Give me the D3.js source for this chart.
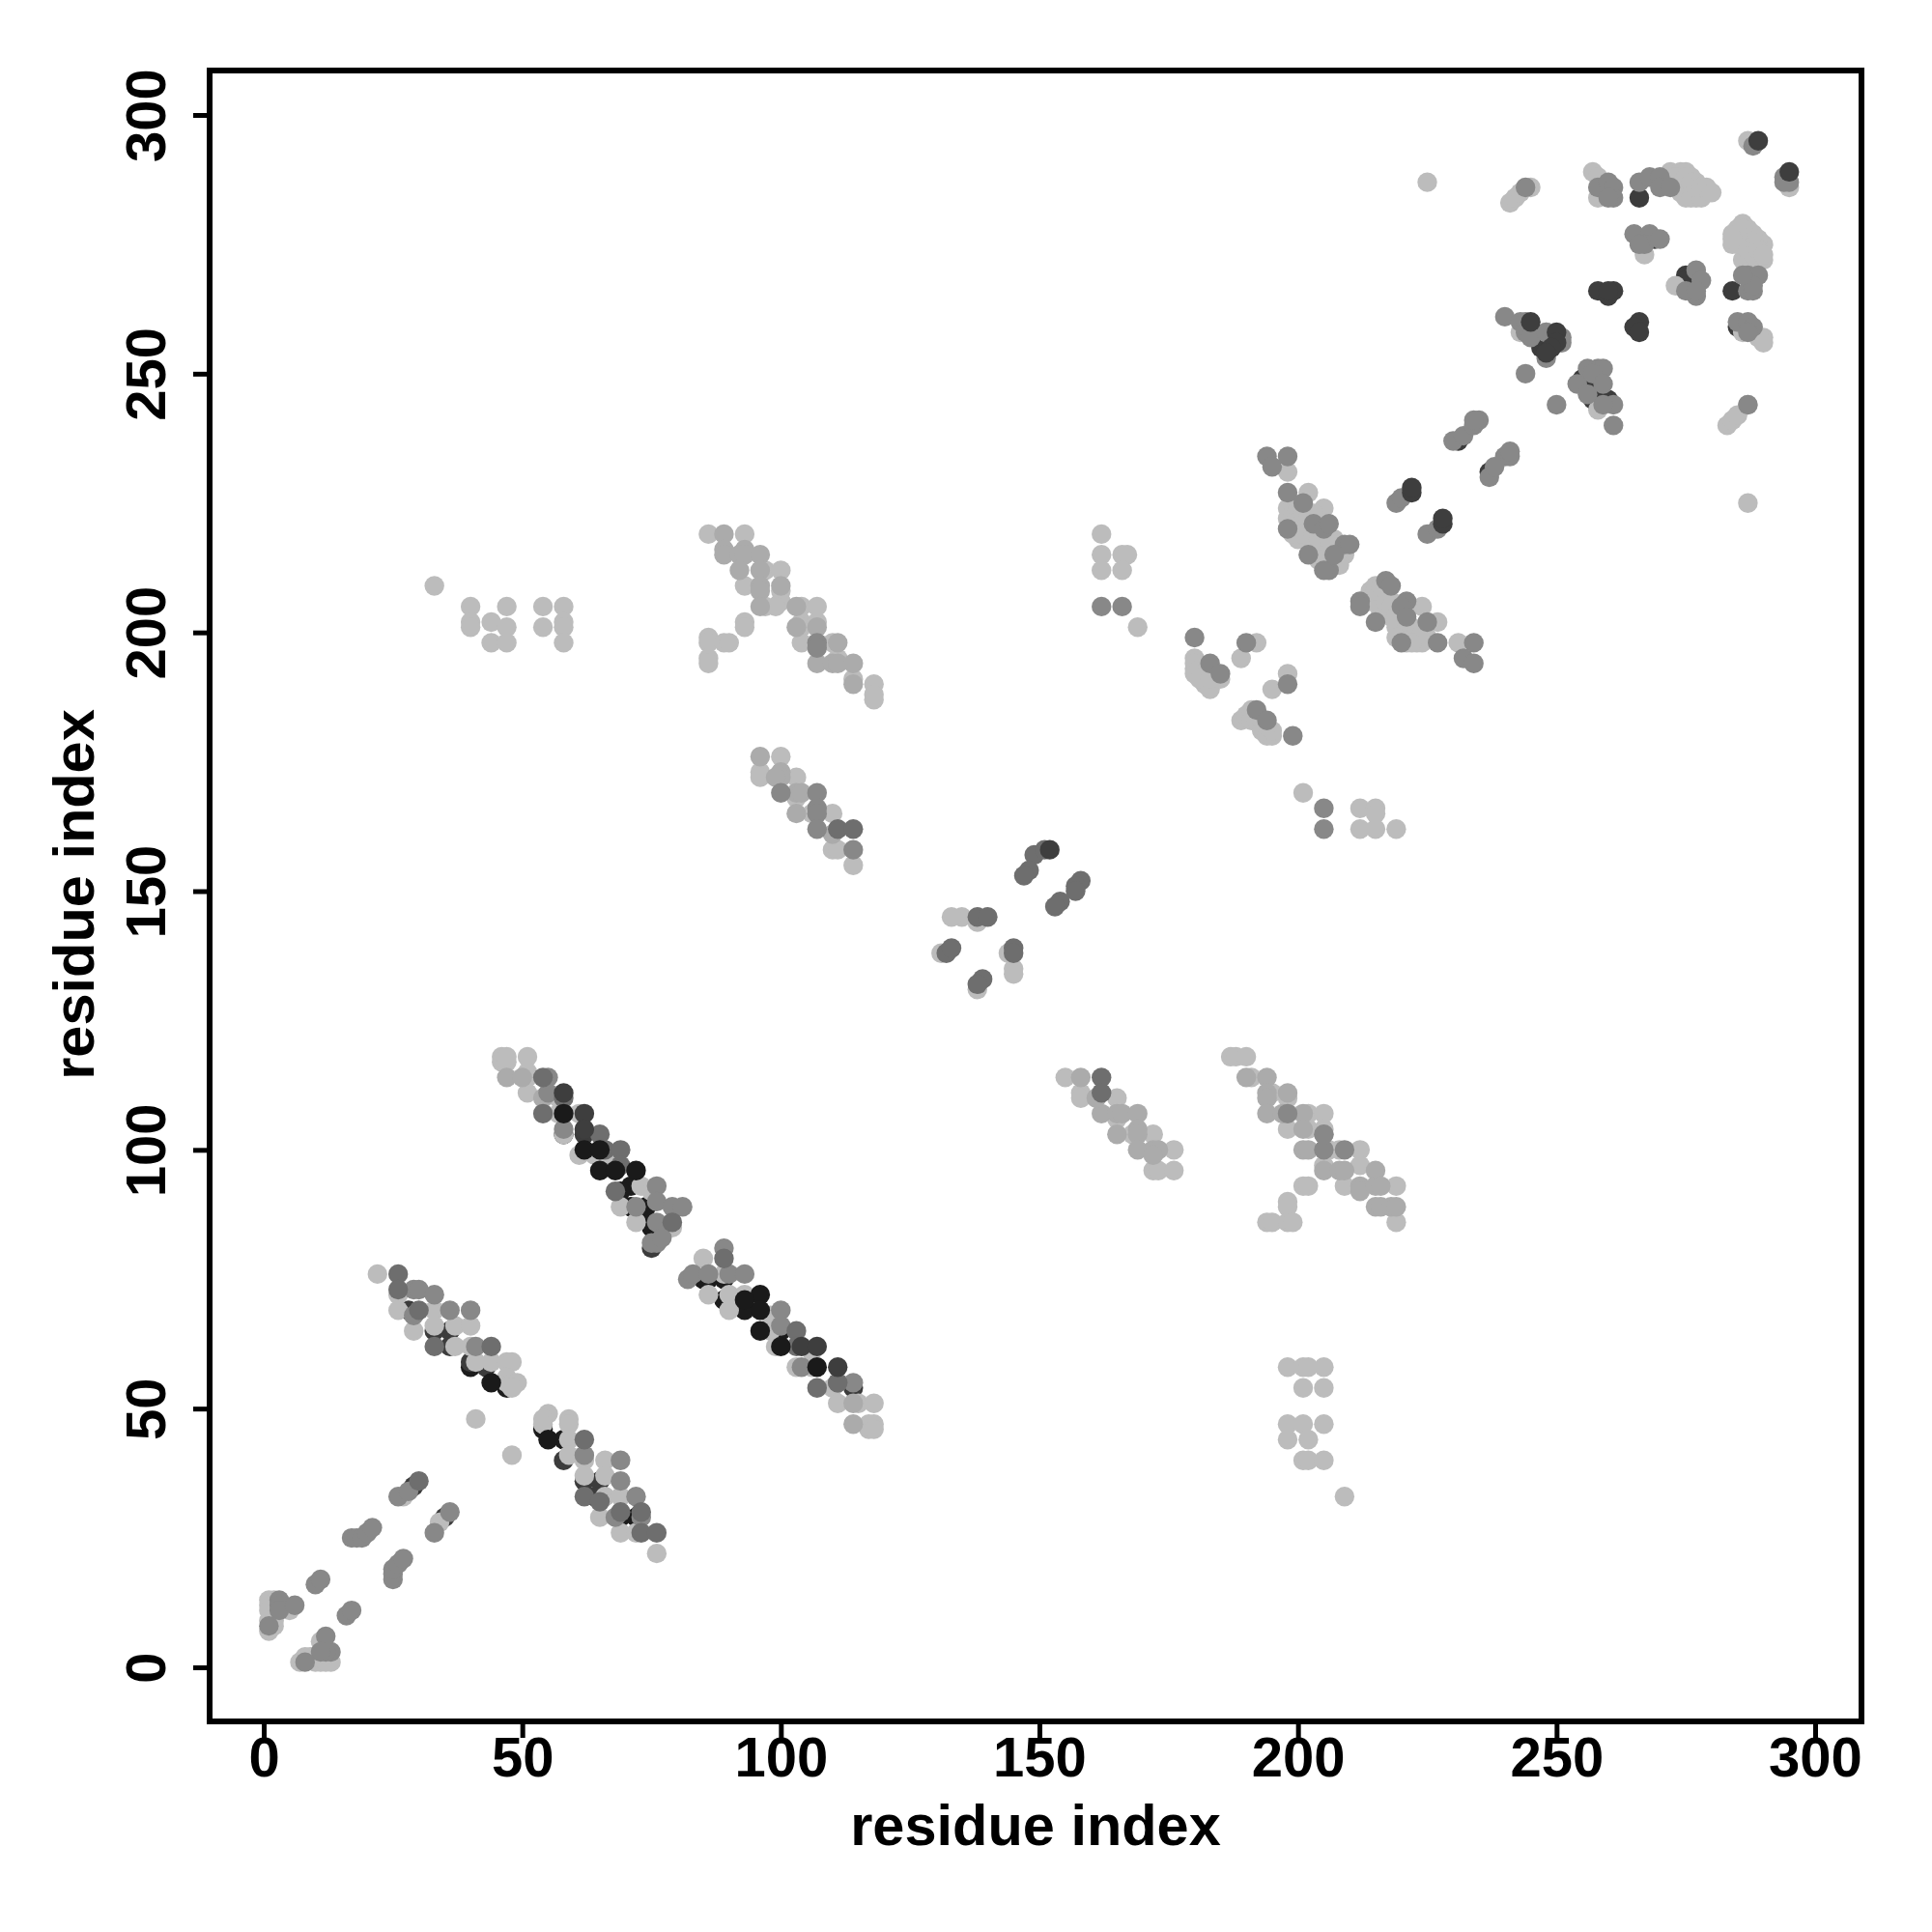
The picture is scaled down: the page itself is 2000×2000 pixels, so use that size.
<!DOCTYPE html>
<html>
<head>
<meta charset="utf-8">
<script src="https://cdn.jsdelivr.net/npm/d3@7"></script>
<style>html,body{margin:0;background:#fff}svg{display:block}text{font-family:"Liberation Sans",Arial,sans-serif;font-weight:bold;fill:#000}</style>
</head>
<body>
<svg id="c" width="2000" height="2000"></svg>
<script>
const xTickValues=[0,50,100,150,200,250,300];
const yTickValues=[0,50,100,150,200,250,300];
const axisTitle="residue index";

const blackestPts=[71,93,71,89,74,89,75,86,75,85,89,75,85,75,86,75,89,71,93,71,93,69,69,29,72,29,47,54,54,46,58,44,100,65,40,58,69,92,58,103];
const darkPts=[28,69,33,65,36,65,36,62,40,59,43,58,58,40,62,36,65,36,64,33,62,103,29,35,35,29,75,81,114,54,
208,217,231,237,237,231,244,258,247,255,255,249,257,247,260,245,257,245,269,276,275,269,275,268,285,259,266,284,284,266,260,285];
const lightPts=[22,76,26,72,26,69,29,65,33,69,33,66,37,66,40,66,37,62,40,62,41,59,44,59,47,59,48,59,47,56,47,55,48,55,49,55,48,54,41,48,48,41,
55,49,54,48,54,47,59,48,59,47,59,44,59,41,62,40,66,40,62,37,66,37,66,33,69,33,65,29,69,26,72,26,76,22,27,33,34,28,
1,13,2,13,1,12,1,11,1,9,2,9,2,8,1,7,5,11,11,5,7,1,8,2,9,2,10,1,11,1,12,1,13,1,10,2,
46,118,47,118,46,117,47,117,51,118,51,115,51,114,51,111,57,107,57,110,58,103,61,107,61,99,64,99,67,99,69,89,73,93,75,92,72,86,79,85,
85,79,86,72,89,76,90,72,90,69,93,72,98,65,98,68,99,62,103,58,106,61,106,58,110,54,111,51,115,51,118,51,117,47,118,47,117,46,118,46,
33,209,40,205,40,202,40,201,44,202,44,198,47,205,47,201,47,198,54,205,54,201,58,205,58,202,58,201,58,198,
86,219,93,219,93,209,97,212,100,212,100,208,100,206,97,205,99,205,93,202,93,201,104,205,104,202,104,201,107,205,107,202,104,198,110,198,111,195,114,191,118,190,118,188,118,187,86,199,86,198,86,195,86,194,89,198,90,198,
100,176,96,173,96,172,103,172,103,168,106,165,110,165,110,158,111,158,114,155,
155,114,158,111,158,110,165,110,165,106,168,103,172,103,176,100,172,96,173,96,176,96,
187,118,188,118,190,118,191,114,195,111,198,110,198,104,202,107,205,107,202,104,205,104,206,100,208,100,212,100,205,97,209,93,212,97,219,93,219,86,201,93,202,93,198,90,198,89,194,86,195,86,198,86,199,86,
198,58,201,58,202,58,205,58,201,54,205,54,198,47,201,47,205,47,198,44,202,44,201,40,202,40,205,40,209,33,
162,219,162,215,166,215,167,215,162,212,166,212,169,201,135,145,133,145,138,144,131,138,144,138,145,135,145,134,138,131,
180,195,180,194,180,193,181,193,180,192,182,191,182,190,183,189,185,191,184,192,181,191,183,191,192,198,189,195,198,192,195,189,189,183,190,184,191,185,191,183,192,183,193,181,194,180,195,180,195,181,194,182,193,183,
201,169,212,166,215,166,215,165,212,162,215,162,219,162,198,231,202,227,205,224,
198,224,198,222,199,223,200,222,199,221,200,220,201,221,202,220,200,218,202,218,203,217,204,216,205,215,199,219,201,219,203,219,204,218,205,217,206,216,207,218,208,215,209,215,205,213,206,213,
199,225,200,224,201,223,202,222,203,223,204,220,205,219,206,218,204,214,207,214,208,213,
214,208,215,209,214,206,216,207,216,205,216,204,218,203,218,206,219,201,221,200,223,198,221,198,224,198,225,199,222,201,224,205,227,202,231,198,215,206,217,204,
214,207,215,208,216,209,217,206,218,205,219,203,220,202,221,201,222,199,223,200,224,200,222,198,219,199,
243,258,248,258,258,243,241,283,242,284,243,285,245,286,225,287,287,225,283,240,284,241,285,242,287,244,
257,289,258,288,258,284,267,273,273,267,258,250,
272,289,274,289,275,289,272,287,274,287,276,288,277,287,279,285,275,284,277,284,278,285,275,286,273,288,276,285,
273,286,274,285,276,284,278,284,275,288,276,287,277,286,278,286,279,286,280,285,
286,279,284,277,284,275,286,277,287,276,288,275,290,275,289,272,287,272,286,272,290,272,285,278,287,277,289,276,285,275,
285,276,286,275,287,274,288,273,289,274,288,277,290,273,287,278,286,278,285,277,284,276,
286,258,289,257,290,257,290,256,295,286,287,295];
const palePts=[158,114,162,107,161,110,165,107,166,107,169,107,165,103,169,104,169,103,169,100,172,100,173,100,172,99,
190,114,194,114,194,111,194,110,198,111,194,107,197,107,201,107,201,104,201,100,202,100,205,96,208,96,209,96,212,93,212,92,215,96,215,93,216,93,215,89,216,89,218,89,219,89,205,103,
89,219,89,216,89,215,93,216,92,215,93,215,96,215,92,212,96,212,96,209,96,208,100,209,96,205,103,205,103,201,107,201,111,198,107,194,110,194,111,194,114,194,114,190,
96,176,100,173,100,172,99,172,103,169,104,169,103,165,110,161,47,114,50,114,54,110,114,51,114,47];
const midPts=[29,73,30,73,33,72,29,68,36,69,40,69,
26,33,28,34,33,26,36,30,17,25,18,25,19,25,20,26,21,27,25,17,25,18,25,19,26,20,27,21,10,16,11,17,16,10,17,11,
3,13,3,12,3,11,6,12,1,8,12,6,13,3,12,3,11,3,8,1,
41,62,62,41,69,40,69,36,72,33,68,29,73,29,
55,114,55,111,58,104,76,93,72,89,76,90,79,89,81,89,76,86,76,82,75,82,77,83,82,75,83,76,89,81,86,76,90,76,93,76,100,69,100,66,104,58,111,55,114,55,
100,169,107,169,107,166,107,165,107,162,114,158,198,107,205,100,209,100,107,198,107,197,205,103,
162,205,166,205,180,199,183,194,185,192,190,198,198,190,199,180,192,185,194,183,205,166,205,162,
194,234,198,234,195,232,198,227,201,225,203,221,205,220,206,221,198,220,202,215,206,212,205,212,209,217,210,217,207,215,
212,206,212,205,217,210,218,209,215,202,220,198,221,206,220,205,221,203,225,202,227,198,234,198,232,195,234,194,
219,225,220,226,225,219,227,220,230,237,232,238,234,240,235,241,234,241,237,230,238,232,240,234,241,234,241,235,
240,261,243,260,244,260,244,258,245,257,248,258,248,253,251,257,251,256,250,244,244,250,
254,248,256,251,258,251,259,251,257,250,259,248,256,246,261,244,259,244,261,240,
244,286,287,244,258,286,260,287,261,286,261,284,260,284,266,287,268,288,270,288,270,286,272,286,
265,277,268,277,267,275,270,276,266,275,277,270,278,268,277,265,275,266,277,266,287,266,288,266,287,269,289,269,288,267,286,269,
285,260,287,260,288,259,287,258,288,294,294,288,294,287,295,287];
const slatePts=[26,76,26,73,30,69,33,62,44,62,30,36,69,30,73,30,73,26,76,26,54,114,54,107,62,44,65,103,66,100,69,100,69,97,89,79,103,65,103,62,107,54,111,55,62,33,58,110,
162,114,162,111,111,162,114,162,
149,157,151,158,148,154,147,153,158,152,157,151,157,150,154,148,153,147,138,145,140,145,132,138,133,139,145,139,145,138,139,133,138,132,
79,86,65,32,68,92];
const topDarkPts=[58,111,62,107,62,104,104,62,107,62,111,58,222,227,222,228,228,221,228,222,258,266,260,265,261,266,260,266,266,260,265,259,266,258,289,295,295,289,152,158,245,260,250,258,250,256,249,255,248,254];
const topBlackPts=[58,107,62,100,65,100,65,96,68,96,72,96,107,58,96,72,96,69,96,65,100,62,44,55,55,44,93,71];

const layers=[["#1c1c1c",blackestPts],["#3c3c3c",darkPts],["#bcbcbc",lightPts],["#ababab",palePts],["#888888",midPts],["#6e6e6e",slatePts],["#3e3e3e",topDarkPts],["#1a1a1a",topBlackPts]];

const svg=d3.select("#c");
const x=d3.scaleLinear().domain([0,300]).range([273,1879]);
const y=d3.scaleLinear().domain([0,300]).range([1726,119]);
const left=217,right=1927,top_=73,bottom=1782;

const g=svg.append("g");
layers.forEach(([col,arr])=>{
  const pts=d3.range(0,arr.length,2).map(i=>[arr[i],arr[i+1]]);
  g.selectAll(null).data(pts).enter().append("circle")
    .attr("cx",d=>x(d[0])).attr("cy",d=>y(d[1])).attr("r",10.2).attr("fill",col);
});

svg.append("rect").attr("x",left).attr("y",top_).attr("width",right-left).attr("height",bottom-top_)
  .attr("fill","none").attr("stroke","#000").attr("stroke-width",6);

const ax=svg.append("g").attr("transform",`translate(0,${bottom})`)
  .call(d3.axisBottom(x).tickValues(xTickValues).tickSize(17).tickPadding(8));
ax.select(".domain").remove();
ax.selectAll("line").attr("stroke","#000").attr("stroke-width",5);
ax.selectAll("text").attr("font-size",58).attr("fill","#000").attr("dy",null).attr("y",57);

const ay=svg.append("g").attr("transform",`translate(${left},0)`)
  .call(d3.axisLeft(y).tickValues(yTickValues).tickSize(17));
ay.select(".domain").remove();
ay.selectAll("line").attr("stroke","#000").attr("stroke-width",5);
ay.selectAll("text").attr("font-size",58).attr("fill","#000").attr("dy",null).attr("x",null)
  .attr("transform","translate(-46,0) rotate(-90)").attr("text-anchor","middle").attr("y",0);

svg.append("text").attr("x",1072).attr("y",1910).attr("text-anchor","middle").attr("font-size",59.5).text(axisTitle);
svg.append("text").attr("transform","translate(97,926) rotate(-90)").attr("text-anchor","middle").attr("font-size",59.5).text(axisTitle);
</script>
</body>
</html>
